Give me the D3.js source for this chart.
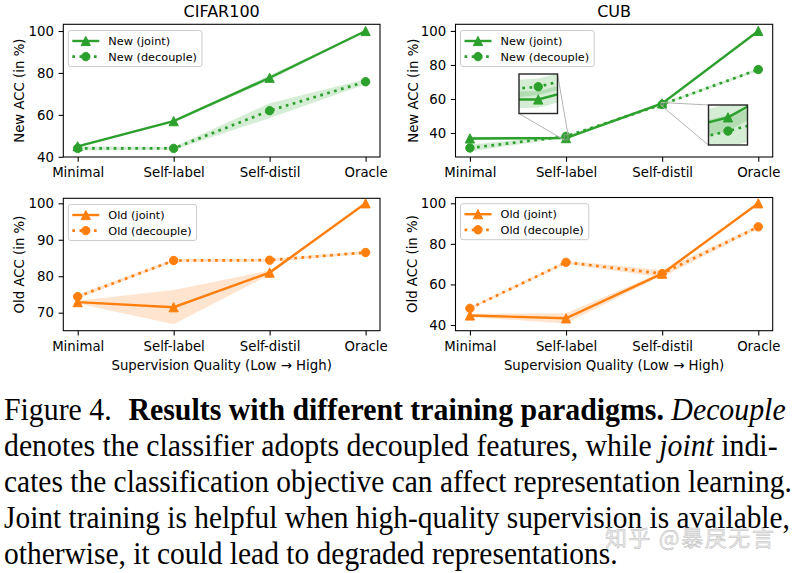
<!DOCTYPE html>
<html>
<head>
<meta charset="utf-8">
<script src="https://cdn.jsdelivr.net/npm/d3@7"></script>
<style>
body { margin: 0; background: #fff; }
svg { display: block; }
.caption { font-family: 'Liberation Serif', 'Times New Roman', Times, serif; }
</style>
</head>
<body>
<svg id="fig" width="795" height="573"></svg>
<script>
// x categories shared by all four panels
const categories = ["Minimal", "Self-label", "Self-distil", "Oracle"];

// CIFAR100, new classes (mean and std of ACC in %)
const cifarNewJoint = [45.0, 57.0, 77.7, 100.0];
const cifarNewJointStd = [0.5, 0.4, 1.2, 0.2];
const cifarNewDecouple = [44.0, 44.0, 62.0, 75.8];
const cifarNewDecoupleStd = [1.0, 0.7, 3.5, 1.2];

// CUB, new classes
const cubNewJoint = [36.8, 37.0, 57.4, 100.0];
const cubNewJointStd = [1.0, 0.65, 0.6, 0.2];
const cubNewDecouple = [31.2, 38.0, 56.8, 77.3];
const cubNewDecoupleStd = [2.0, 0.65, 0.7, 0.8];

// CIFAR100, old classes
const cifarOldJoint = [72.9, 71.5, 81.0, 100.0];
const cifarOldJointStd = [0.4, 4.7, 0.6, 0.1];
const cifarOldDecouple = [74.4, 84.3, 84.4, 86.5];
const cifarOldDecoupleStd = [0.5, 0.4, 0.4, 0.4];

// CUB, old classes
const cubOldJoint = [44.7, 43.3, 65.3, 100.0];
const cubOldJointStd = [0.8, 2.5, 0.8, 0.1];
const cubOldDecouple = [48.2, 70.9, 65.3, 88.4];
const cubOldDecoupleStd = [0.6, 0.8, 1.8, 0.8];

// y tick labels
const accTicks = [40, 60, 80, 100];
const cifarOldTicks = [70, 80, 90, 100];

const GREEN = "#2ca02c";
const ORANGE = "#ff7f0e";
const SANS = "DejaVu Sans, sans-serif";

var svg = d3.select("#fig");

var panels = [
	{title: "CIFAR100", box: [63.3, 24.3, 380, 157], ylim: [39.9, 103.2], ticks: accTicks,
	 ylabel: "New ACC (in %)", ylabelX: 24, color: GREEN, names: ["New (joint)", "New (decouple)"],
	 joint: cifarNewJoint, jointStd: cifarNewJointStd, dec: cifarNewDecouple, decStd: cifarNewDecoupleStd},
	{title: "CUB", box: [455.5, 24.3, 772.7, 157], ylim: [25.9, 103.9], ticks: accTicks,
	 ylabel: "New ACC (in %)", ylabelX: 417.5, color: GREEN, names: ["New (joint)", "New (decouple)"],
	 joint: cubNewJoint, jointStd: cubNewJointStd, dec: cubNewDecouple, decStd: cubNewDecoupleStd,
	 insets: [
		{box: [519, 74, 557.5, 113.5], xdom: [0.98, 1.02], ydom: [35.9, 39.0], corners: ["ll", "ur"]},
		{box: [708.5, 105, 747.5, 145], xdom: [1.989, 2.011], ydom: [56.19, 57.94], corners: ["ul", "ll"]}
	 ]},
	{box: [63.3, 198.3, 380, 330.7], ylim: [65.06, 101.37], ticks: cifarOldTicks,
	 ylabel: "Old ACC (in %)", ylabelX: 24, color: ORANGE, names: ["Old (joint)", "Old (decouple)"],
	 xlabel: "Supervision Quality (Low \u2192 High)",
	 joint: cifarOldJoint, jointStd: cifarOldJointStd, dec: cifarOldDecouple, decStd: cifarOldDecoupleStd},
	{box: [455.5, 197.5, 772.7, 330.7], ylim: [37.19, 102.86], ticks: accTicks,
	 ylabel: "Old ACC (in %)", ylabelX: 416.5, color: ORANGE, names: ["Old (joint)", "Old (decouple)"],
	 xlabel: "Supervision Quality (Low \u2192 High)",
	 joint: cubOldJoint, jointStd: cubOldJointStd, dec: cubOldDecouple, decStd: cubOldDecoupleStd}
];

function marker(g, kind, cx, cy, color) {
	if (kind === "tri") {
		var r = 4.6;
		return g.append("path")
			.attr("d", "M" + cx + "," + (cy - r) + "L" + (cx - r) + "," + (cy + r) + "L" + (cx + r) + "," + (cy + r) + "Z")
			.attr("fill", color).attr("stroke", color).attr("stroke-width", 1);
	}
	return g.append("circle").attr("cx", cx).attr("cy", cy).attr("r", 4.2)
		.attr("fill", color).attr("stroke", color).attr("stroke-width", 1);
}

/**
 * Draw bands, lines and markers of one panel into g with scales x, y.
 */
function drawSeries(g, p, x, y) {
	var idx = d3.range(categories.length);
	var series = [
		{mean: p.joint, std: p.jointStd, kind: "tri", dash: null, width: 2.4},
		{mean: p.dec, std: p.decStd, kind: "circ", dash: "2.7,4.5", width: 2.7}
	];
	series.forEach(function (s) {
		var area = d3.area()
			.x(i => x(i))
			.y0(i => y(s.mean[i] - s.std[i]))
			.y1(i => y(s.mean[i] + s.std[i]));
		g.append("path").attr("d", area(idx))
			.attr("fill", p.color).attr("fill-opacity", 0.2);
	});
	series.forEach(function (s) {
		var line = d3.line().x(i => x(i)).y(i => y(s.mean[i]));
		g.append("path").attr("d", line(idx))
			.attr("fill", "none").attr("stroke", p.color)
			.attr("stroke-width", s.width)
			.attr("stroke-dasharray", s.dash);
		idx.forEach(i => marker(g, s.kind, x(i), y(s.mean[i]), p.color));
	});
}

function corner(b, c) {
	// b = [x0, y0, x1, y1] in pixels
	if (c === "ll") return [b[0], b[3]];
	if (c === "ul") return [b[0], b[1]];
	if (c === "ur") return [b[2], b[1]];
	return [b[2], b[3]];
}

panels.forEach(function (p, k) {
	var [x0, y0, x1, y1] = p.box;
	var x = d3.scaleLinear().domain([-0.15, categories.length - 1 + 0.15]).range([x0, x1]);
	var y = d3.scaleLinear().domain(p.ylim).range([y1, y0]);
	var g = svg.append("g");

	var clipId = "clip" + k;
	svg.append("clipPath").attr("id", clipId)
		.append("rect").attr("x", x0).attr("y", y0).attr("width", x1 - x0).attr("height", y1 - y0);

	var plot = g.append("g").attr("clip-path", "url(#" + clipId + ")");
	drawSeries(plot, p, x, y);

	// zoomed insets (mark_inset style)
	(p.insets || []).forEach(function (ins, j) {
		var src = [x(ins.xdom[0]), y(ins.ydom[1]), x(ins.xdom[1]), y(ins.ydom[0])];
		g.append("rect").attr("x", src[0]).attr("y", src[1])
			.attr("width", src[2] - src[0]).attr("height", src[3] - src[1])
			.attr("fill", "none").attr("stroke", "#9a9a9a").attr("stroke-width", 0.8);
		ins.corners.forEach(function (c) {
			var a = corner(src, c), b = corner(ins.box, c);
			g.append("line").attr("x1", a[0]).attr("y1", a[1]).attr("x2", b[0]).attr("y2", b[1])
				.attr("stroke", "#b4b4b4").attr("stroke-width", 1);
		});
		var [ix0, iy0, ix1, iy1] = ins.box;
		var ix = d3.scaleLinear().domain(ins.xdom).range([ix0, ix1]);
		var iy = d3.scaleLinear().domain(ins.ydom).range([iy1, iy0]);
		var cid = "iclip" + k + "_" + j;
		svg.append("clipPath").attr("id", cid)
			.append("rect").attr("x", ix0).attr("y", iy0).attr("width", ix1 - ix0).attr("height", iy1 - iy0);
		g.append("rect").attr("x", ix0).attr("y", iy0).attr("width", ix1 - ix0).attr("height", iy1 - iy0)
			.attr("fill", "#fff");
		drawSeries(g.append("g").attr("clip-path", "url(#" + cid + ")"), p, ix, iy);
		g.append("rect").attr("x", ix0).attr("y", iy0).attr("width", ix1 - ix0).attr("height", iy1 - iy0)
			.attr("fill", "none").attr("stroke", "#262626").attr("stroke-width", 1.4);
	});

	// frame
	g.append("rect").attr("x", x0).attr("y", y0).attr("width", x1 - x0).attr("height", y1 - y0)
		.attr("fill", "none").attr("stroke", "#000").attr("stroke-width", 1.07);

	// axes
	var xa = g.append("g").attr("transform", "translate(0," + y1 + ")")
		.call(d3.axisBottom(x).tickValues(d3.range(categories.length))
			.tickFormat(i => categories[i]).tickSize(4.7).tickPadding(6.2));
	var ya = g.append("g").attr("transform", "translate(" + x0 + ",0)")
		.call(d3.axisLeft(y).tickValues(p.ticks).tickSize(4.7).tickPadding(4.7));
	[xa, ya].forEach(function (a) {
		a.select(".domain").remove();
		a.selectAll(".tick line").attr("stroke", "#000").attr("stroke-width", 1.07);
		a.selectAll(".tick text").attr("fill", "#000")
			.style("font-family", SANS).style("font-size", "13.3px");
	});

	// labels
	g.append("text")
		.attr("transform", "translate(" + p.ylabelX + "," + ((y0 + y1) / 2) + ") rotate(-90)")
		.attr("text-anchor", "middle")
		.style("font-family", SANS).style("font-size", "13.3px")
		.text(p.ylabel);
	if (p.title) {
		g.append("text").attr("x", (x0 + x1) / 2).attr("y", 17)
			.attr("text-anchor", "middle")
			.style("font-family", SANS).style("font-size", "16px")
			.text(p.title);
	}
	if (p.xlabel) {
		g.append("text").attr("x", (x0 + x1) / 2).attr("y", 370)
			.attr("text-anchor", "middle")
			.style("font-family", SANS).style("font-size", "13.3px")
			.text(p.xlabel);
	}

	// legend
	var lg = g.append("g").attr("transform", "translate(" + (x0 + 5) + "," + (y0 + 6.2) + ")");
	var box = lg.append("rect").attr("rx", 2.5).attr("ry", 2.5)
		.attr("fill", "#fff").attr("fill-opacity", 0.8)
		.attr("stroke", "#cccccc").attr("stroke-width", 1);
	var maxW = 0;
	p.names.forEach(function (name, r) {
		var cy = 10.5 + r * 15.6;
		lg.append("line").attr("x1", 4).attr("x2", 31).attr("y1", cy).attr("y2", cy)
			.attr("stroke", p.color)
			.attr("stroke-width", r === 0 ? 2.4 : 2.7)
			.attr("stroke-dasharray", r === 0 ? null : "2.7,4.5");
		marker(lg, r === 0 ? "tri" : "circ", 17.5, cy, p.color);
		var t = lg.append("text").attr("x", 40).attr("y", cy + 4)
			.style("font-family", SANS).style("font-size", "11.3px")
			.text(name);
		maxW = Math.max(maxW, t.node().getComputedTextLength());
	});
	box.attr("width", 40 + maxW + 5).attr("height", 36);
});

// caption, justified lines in a Times-like face (condensed to fit the line)
var captionLines = [
	{parts: [["Figure 4.", ""], ["Results with different training paradigms.", "b", 18], [" ", ""], ["Decouple", "i"]], end: 786},
	{parts: [["denotes the classifier adopts decoupled features, while ", ""], ["joint", "i"], [" indi-", ""]], end: 778},
	{parts: [["cates the classification objective can affect representation learning.", ""]], end: 792},
	{parts: [["Joint training is helpful when high-quality supervision is available,", ""]], end: 790},
	{parts: [["otherwise, it could lead to degraded representations.", ""]], end: 618}
];
captionLines.forEach(function (ln, i) {
	var t = svg.append("text").attr("class", "caption")
		.style("font-size", "32px").style("white-space", "pre")
		.attr("fill", "#000");
	ln.parts.forEach(function (pt) {
		var s = t.append("tspan").text(pt[0]);
		if (pt[1] === "b") s.style("font-weight", "bold");
		if (pt[1] === "i") s.style("font-style", "italic");
		if (pt[2]) s.attr("dx", pt[2]);
	});
	var w = t.node().getBBox().width;
	var sx = (ln.end - 4) / w;
	t.attr("transform", "translate(4," + (419.5 + i * 36) + ") scale(" + sx + ",1)");
});

// watermark
svg.append("text").attr("x", 605).attr("y", 546)
	.style("font-family", "'Noto Sans CJK SC', sans-serif").style("font-size", "22px")
	.style("letter-spacing", "1.6px")
	.attr("fill", "#eeeeee").attr("stroke", "#bdbdbd").attr("stroke-width", 0.5)
	.text("知乎 @暴戾无言");
</script>
</body>
</html>
